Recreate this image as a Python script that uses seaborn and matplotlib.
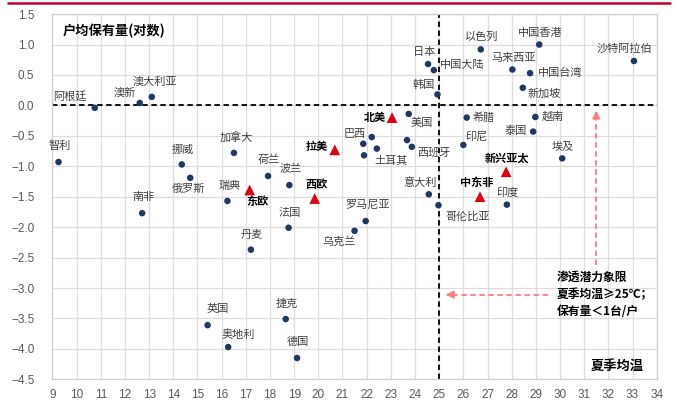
import matplotlib
matplotlib.use("Agg")
import matplotlib.pyplot as plt
import seaborn as sns
import pandas as pd
from matplotlib.lines import Line2D

# ---------------- data ----------------
country_names = ['智利', '阿根廷', '澳新', '澳大利亚', '挪威', '俄罗斯', '南非', '英国', '奥地利',
                 '瑞典', '加拿大', '丹麦', '荷兰', '波兰', '法国', '捷克', '德国', '乌克兰', '罗马尼亚',
                 '巴西', '', '土耳其', '', '美国', '', '西班牙', '意大利', '哥伦比亚', '日本', '中国大陆',
                 '韩国', '以色列', '中国香港', '沙特阿拉伯', '马来西亚', '中国台湾', '新加坡', '希腊',
                 '越南', '泰国', '印尼', '埃及', '印度']
country_temp = [9.25, 10.75, 12.61, 13.11, 14.35, 14.70, 12.71, 15.42, 16.27,
                16.24, 16.51, 17.21, 17.92, 18.80, 18.77, 18.65, 19.12, 21.50, 21.96,
                21.86, 22.21, 22.42, 21.89, 23.74, 23.67, 23.87, 24.57, 24.97, 24.54, 24.78,
                24.93, 26.72, 29.14, 33.06, 28.03, 28.76, 28.46, 26.14,
                28.98, 28.89, 26.00, 30.09, 27.80]
country_hold = [-0.93, -0.04, 0.04, 0.14, -0.97, -1.19, -1.77, -3.61, -3.97,
                -1.57, -0.78, -2.37, -1.16, -1.31, -2.01, -3.51, -4.15, -2.06, -1.90,
                -0.63, -0.52, -0.71, -0.82, -0.14, -0.57, -0.68, -1.46, -1.64, 0.68, 0.58,
                0.18, 0.92, 1.00, 0.73, 0.59, 0.53, 0.29, -0.20,
                -0.19, -0.43, -0.65, -0.87, -1.63]

region_names = ['北美', '拉美', '东欧', '西欧', '新兴亚太', '中东非']
region_temp = [23.05, 20.68, 17.16, 19.85, 27.77, 26.69]
region_hold = [-0.20, -0.73, -1.39, -1.53, -1.09, -1.50]

x_ticks = list(range(9, 35))
y_ticks = [1.5, 1.0, 0.5, 0.0, -0.5, -1.0, -1.5, -2.0, -2.5, -3.0, -3.5, -4.0, -4.5]

# label placement (image pixels: dx right, dy down, horizontal alignment)
label_pos = {
    '智利': (1, -16, 'center'), '阿根廷': (-25, -12, 'center'), '澳新': (-15, -10, 'center'),
    '澳大利亚': (3, -15, 'center'), '挪威': (1, -15, 'center'), '俄罗斯': (-2, 11, 'center'),
    '南非': (1, -16, 'center'), '英国': (10, -16, 'center'), '奥地利': (10, -12, 'center'),
    '瑞典': (2, -15, 'center'), '加拿大': (2, -16, 'center'), '丹麦': (1, -15, 'center'),
    '荷兰': (1, -16, 'center'), '波兰': (1, -16, 'center'), '法国': (1, -15, 'center'),
    '捷克': (1, -15, 'center'), '德国': (1, -16, 'center'), '乌克兰': (-16, 11, 'center'),
    '罗马尼亚': (2, -16, 'center'), '巴西': (-9, -10, 'center'), '土耳其': (14, 12, 'center'),
    '美国': (13, 9, 'center'), '西班牙': (6, 6, 'left'), '意大利': (-9, -12, 'center'),
    '哥伦比亚': (7, 11, 'left'), '日本': (-4, -12, 'center'), '中国大陆': (6, -5, 'left'),
    '韩国': (-14, -10, 'center'), '以色列': (1, -13, 'center'), '中国香港': (1, -12, 'center'),
    '沙特阿拉伯': (-10, -12, 'center'), '马来西亚': (1, -12, 'center'), '中国台湾': (8, 0, 'left'),
    '新加坡': (5, 6, 'left'), '希腊': (6, 0, 'left'), '越南': (6, 0, 'left'),
    '泰国': (-6, -1, 'right'), '印尼': (13, -9, 'center'), '埃及': (1, -11, 'center'),
    '印度': (1, -12, 'center'),
    '北美': (-17, 0, 'center'), '拉美': (-18, -3, 'center'), '东欧': (8, 11, 'center'),
    '西欧': (2, -14, 'center'), '新兴亚太': (1, -14, 'center'), '中东非': (-3, -14, 'center'),
}

# ---------------- style ----------------
sns.set_theme(style="white")
plt.rcParams['font.family'] = ['Noto Sans CJK SC', 'DejaVu Sans']
plt.rcParams['axes.unicode_minus'] = True

fig = plt.figure(figsize=(6.77, 4.01), dpi=100)
ax = fig.add_axes([0.0775, 0.0541, 0.8925, 0.9107])

cdf = pd.DataFrame({'temp': country_temp, 'hold': country_hold, 'name': country_names})
rdf = pd.DataFrame({'temp': region_temp, 'hold': region_hold, 'name': region_names})

ax.set_xlim(9, 34)
ax.set_ylim(-4.5, 1.5)
ax.set_xticks(x_ticks)
ax.set_yticks(y_ticks)
ax.grid(True, color='#DDDDDD', lw=0.9, zorder=0)
ax.set_axisbelow(True)
for s in ax.spines.values():
    s.set_color('#D0D0D0')
    s.set_linewidth(0.9)

ax.tick_params(axis='both', length=0, labelcolor='#595959')
ax.tick_params(axis='y', pad=13)
ax.tick_params(axis='x', pad=7)
for lab in ax.get_xticklabels() + ax.get_yticklabels():
    lab.set_fontfamily('Liberation Sans')
    lab.set_fontsize(8.5)
ax.set_yticklabels([f"{v:.1f}".replace('-', '\u2212') for v in y_ticks])

# dashed reference lines
ax.axhline(0, color='black', lw=1.3, ls=(0, (3, 2)), zorder=2)
ax.axvline(25, color='black', lw=1.3, ls=(0, (3, 2)), zorder=2)

# points
sns.scatterplot(data=cdf, x='temp', y='hold', ax=ax, color='#1F3864', s=22,
                edgecolor='none', zorder=4, legend=False)
sns.scatterplot(data=rdf, x='temp', y='hold', ax=ax, color='#E00012', marker='^', s=60,
                edgecolor='none', zorder=4, legend=False)
ax.set_xlabel('')
ax.set_ylabel('')

for n, x, y in zip(country_names, country_temp, country_hold):
    if not n:
        continue
    dx, dy, ha = label_pos[n]
    ax.annotate(n, (x, y), xytext=(dx, -dy), textcoords='offset pixels',
                ha=ha, va='center', fontsize=8, color='#404040', zorder=5)
for n, x, y in zip(region_names, region_temp, region_hold):
    dx, dy, ha = label_pos[n]
    ax.annotate(n, (x, y), xytext=(dx, -dy), textcoords='offset pixels',
                ha=ha, va='center', fontsize=8, color='black', fontweight='bold', zorder=5)

# red dashed arrows
acol = '#FF7C80'
ax.plot([31.5, 31.5], [-2.63, -0.2], color=acol, lw=1.3, ls=(0, (3, 2)), zorder=3)
ax.annotate('', xy=(31.5, -0.04), xytext=(31.5, -0.25),
            arrowprops=dict(arrowstyle='-|>', color=acol, lw=1.3, mutation_scale=11), zorder=3)
ax.plot([29.51, 25.4], [-3.11, -3.11], color=acol, lw=1.3, ls=(0, (3, 2)), zorder=3)
ax.annotate('', xy=(25.16, -3.11), xytext=(25.5, -3.11),
            arrowprops=dict(arrowstyle='-|>', color=acol, lw=1.3, mutation_scale=11), zorder=3)

# annotations
ax.text(29.85, -2.82, '渗透潜力象限', fontsize=8.5, fontweight='bold', color='black',
        ha='left', va='center')
ax.text(29.85, -3.11, '夏季均温≥25℃；', fontsize=8.5, fontweight='bold', color='black',
        ha='left', va='center')
ax.text(29.85, -3.38, '保有量＜1台/户', fontsize=8.5, fontweight='bold', color='black',
        ha='left', va='center')
ax.text(31.25, -4.28, '夏季均温', fontsize=9.5, fontweight='bold', color='black',
        ha='left', va='center')
ax.text(9.43, 1.22, '户均保有量(对数)', fontsize=9.5, fontweight='bold', color='black',
        ha='left', va='center')

# top red rule
fig.add_artist(Line2D([8 / 677, 670 / 677], [1 - 3 / 401, 1 - 3 / 401],
                      color='#C0002A', lw=1.8))

fig.savefig('out.png', dpi=100)
